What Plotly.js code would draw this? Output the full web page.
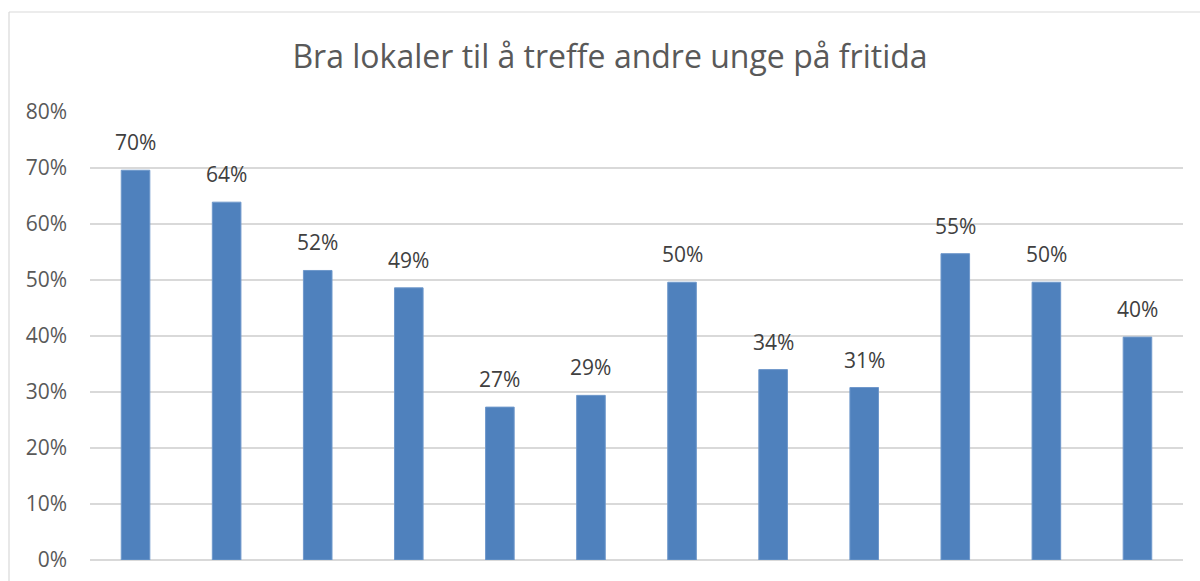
<!DOCTYPE html>
<html>
<head>
<meta charset="utf-8">
<script src="https://cdn.plot.ly/plotly-3.0.1.min.js"></script>
<style>html,body{margin:0;padding:0;background:#fff;}#chart{width:1200px;height:581px;}</style>
</head>
<body>
<div id="chart"></div>
<script>
const chartTitle = 'Bra lokaler til å treffe andre unge på fritida';
const categories = ['K1','K2','K3','K4','K5','K6','K7','K8','K9','K10','K11','K12'];
const values = [0.696, 0.639, 0.517, 0.486, 0.273, 0.294, 0.496, 0.340, 0.308, 0.547, 0.496, 0.398];
const yTickVals = [0, 0.1, 0.2, 0.3, 0.4, 0.5, 0.6, 0.7, 0.8];
const yTickText = ['0%','10%','20%','30%','40%','50%','60%','70%','80%'];

const FONT = 'Open Sans, Noto Sans, sans-serif';

const trace = {
  type: 'bar',
  x: categories,
  y: values,
  marker: {color: '#4F81BD', line: {color: '#6F98CB', width: 1}},
  hoverinfo: 'none'
};

const annotations = categories.map((c, i) => ({
  x: i, y: values[i], xref: 'x', yref: 'y',
  text: Math.round(values[i] * 100) + '%',
  showarrow: false, yanchor: 'bottom', yshift: 12,
  font: {family: FONT, size: 21, color: '#404040'}
}));

const layout = {
  width: 1200, height: 581,
  margin: {l: 90, r: 17, t: 112, b: 21},
  paper_bgcolor: '#ffffff', plot_bgcolor: '#ffffff',
  showlegend: false,
  bargap: 0.686,
  title: {
    text: chartTitle,
    x: (610-90)/1093, xref: 'paper', xanchor: 'center',
    y: 1 - 57/581, yref: 'container', yanchor: 'middle',
    font: {family: FONT, size: 32, color: '#595959'}
  },
  xaxis: {
    type: 'category', showticklabels: false, showgrid: false, zeroline: false,
    showline: false, ticks: ''
  },
  yaxis: {
    range: [0, 0.8], tickvals: yTickVals, ticktext: yTickText,
    showgrid: true, gridcolor: '#D9D9D9', gridwidth: 1.2,
    zeroline: true, zerolinecolor: '#D9D9D9', zerolinewidth: 1.2,
    showline: false, ticks: '', ticklabelstandoff: 22,
    tickfont: {family: FONT, size: 21, color: '#595959'}
  },
  annotations: annotations,
  shapes: [
    {type: 'line', xref: 'paper', yref: 'paper',
     x0: (9-90)/1093, x1: (1210-90)/1093, y0: (560-12)/448, y1: (560-12)/448,
     line: {color: '#D9D9D9', width: 1.2}},
    {type: 'line', xref: 'paper', yref: 'paper',
     x0: (9-90)/1093, x1: (9-90)/1093, y0: (560-12)/448, y1: (560-600)/448,
     line: {color: '#D9D9D9', width: 1.2}}
  ]
};

Plotly.newPlot('chart', [trace], layout, {displayModeBar: false, staticPlot: true});
</script>
</body>
</html>
